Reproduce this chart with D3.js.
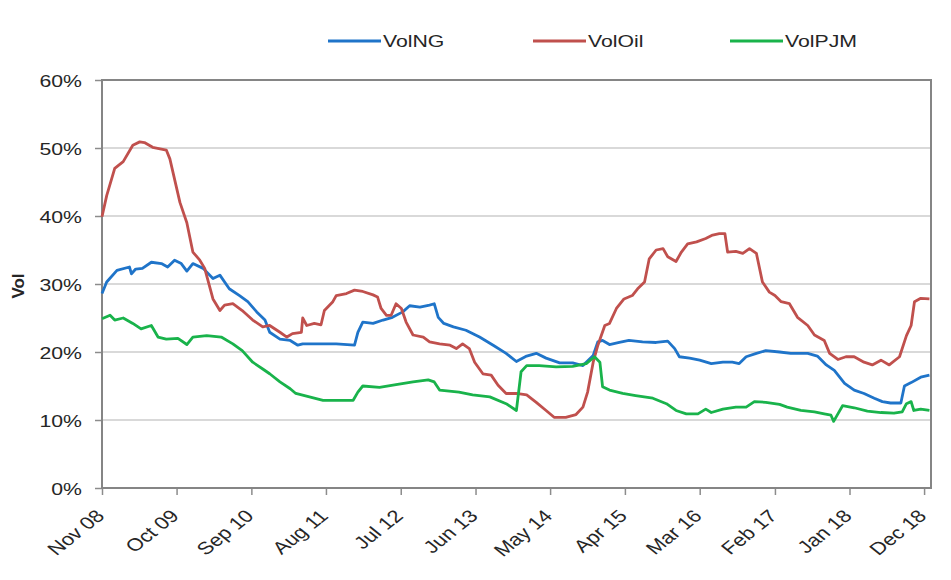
<!DOCTYPE html>
<html>
<head>
<meta charset="utf-8">
<script src="https://cdn.jsdelivr.net/npm/d3@7"></script>
<style>
  body { margin: 0; background: #fff; }
  text { font-family: "Liberation Sans", Arial, sans-serif; fill: #262626; }
</style>
</head>
<body>
<div id="chart"></div>
<script>
// [months after Nov 2008, vol %]
var volNG = [[0,28.6],[0.7,30.3],[2.2,32],[4.1,32.5],[4.4,31.5],[5,32.2],[6,32.3],[7.3,33.2],[8.8,33],[9.7,32.5],
  [10.7,33.5],[11.7,33],[12.5,31.9],[13.4,33],[14.9,32.3],[16.4,30.8],[17.4,31.3],[18.8,29.3],[20.3,28.3],[21.5,27.4],
  [22.8,25.9],[24,24.7],[24.7,22.9],[26.2,21.9],[27.7,21.7],[28.9,21],[29.6,21.2],[32.1,21.2],[34.5,21.2],[37.2,21],
  [37.7,22.9],[38.4,24.4],[39.9,24.2],[41.4,24.7],[42.8,25.1],[44.3,25.9],[45.3,26.8],[46.8,26.6],[48.2,26.9],[48.9,27.1],
  [49.5,25.1],[50.3,24.2],[51.7,23.7],[53.6,23.2],[55.6,22.2],[57.6,21],[59.5,19.8],[61,18.6],[62.5,19.4],[63.9,19.8],
  [65.4,19.1],[67.4,18.4],[69.3,18.4],[70.8,18],[72.3,19.5],[73,21.5],[73.7,21.7],[74.7,21.1],[76.2,21.4],[77.6,21.7],
  [79.6,21.5],[81.6,21.4],[83.3,21.6],[84.3,20.5],[85,19.3],[86.5,19.1],[88,18.8],[89.7,18.3],[91.4,18.5],[92.8,18.5],
  [93.8,18.3],[94.8,19.3],[96.3,19.8],[97.7,20.2],[99.7,20],[101.4,19.8],[103.9,19.8],[105.3,19.4],[106.6,18.1],[107.8,17.3],
  [109.3,15.4],[110.7,14.4],[112.2,13.9],[113.7,13.2],[114.9,12.7],[116.1,12.5],[117.6,12.5],[118.1,15],[119.1,15.5],[120.5,16.3],
  [121.8,16.6]];

var volOil = [[0,39.9],[0.7,43],[1.9,47],[3.1,48],[4.6,50.4],[5.6,50.9],[6.3,50.8],[7.5,50.1],[9.5,49.7],[10,48.4],
  [11.5,42],[12.5,39],[13.4,34.7],[14.4,33.5],[15.1,32.3],[16.4,27.8],[17.4,26.1],[18.1,26.9],[19.3,27.1],[20.7,26.1],
  [22.2,24.7],[23.7,23.7],[24.7,23.9],[26.2,22.9],[27.2,22.2],[28.1,22.7],[29.4,22.9],[29.6,25],[30.2,23.9],[31.3,24.2],
  [32.3,24],[32.8,26.1],[34,27.4],[34.5,28.3],[36,28.6],[37.2,29.1],[38.4,28.9],[39.9,28.4],[40.6,28.1],[41.1,26.4],
  [41.9,25.4],[42.6,25.4],[43.3,27.1],[44.1,26.4],[44.8,24.4],[45.8,22.5],[47.3,22.2],[48.2,21.5],[49.7,21.2],[51.2,21],
  [52.2,20.5],[53.1,21.2],[54.1,20.5],[54.9,18.5],[56.1,16.8],[57.3,16.6],[58.3,15.1],[59.5,13.9],[61,13.9],[62.5,13.7],
  [63.9,12.6],[65.4,11.4],[66.6,10.4],[68.3,10.4],[69.8,10.8],[70.8,11.9],[71.5,14.1],[72.3,18.5],[73,21],[74,23.9],
  [74.7,24.2],[75.7,26.4],[76.9,27.8],[78.1,28.3],[78.9,29.3],[79.9,30.3],[80.6,33.7],[81.6,35],[82.6,35.2],[83.3,34],
  [84.5,33.3],[85.3,34.7],[86.2,35.9],[87.5,36.2],[88.9,36.7],[89.9,37.2],[90.9,37.4],[91.7,37.4],[92.1,34.7],[93.3,34.8],
  [94.3,34.5],[95.3,35.2],[96.3,34.5],[97.2,30.3],[98.2,28.8],[99,28.3],[100,27.4],[101.2,27.1],[102.4,25.1],[103.9,23.9],
  [104.9,22.5],[106.3,21.7],[107.1,19.8],[108.3,18.9],[109.5,19.3],[110.7,19.3],[112.2,18.5],[113.4,18.1],[114.7,18.8],[115.9,18.1],
  [117.4,19.3],[118.4,22.4],[119.1,23.9],[119.6,27.4],[120.5,27.9],[121.8,27.8]];

var volPJM = [[0,24.9],[1.2,25.4],[1.9,24.7],[3.1,25],[4.6,24.2],[5.8,23.4],[7.3,23.9],[8.3,22.2],[9.5,21.9],[11.2,22],
  [12.5,21.1],[13.4,22.2],[15.4,22.4],[17.6,22.2],[19.3,21.2],[20.7,20.2],[22.2,18.5],[23.7,17.5],[24.7,16.8],[26.2,15.6],
  [27.7,14.6],[28.6,13.9],[30.6,13.4],[32.6,12.9],[34.5,12.9],[37,12.9],[37.7,14.1],[38.4,15],[40.9,14.8],[43.3,15.2],
  [45.8,15.6],[48,15.9],[48.9,15.6],[49.7,14.4],[52.6,14.1],[54.6,13.7],[57.1,13.4],[59.5,12.4],[61,11.4],[61.7,17.1],
  [62.5,18],[64.4,18],[66.9,17.8],[69.3,17.9],[71.3,18.3],[72.5,19.3],[73.3,18.5],[73.7,14.9],[74.7,14.4],[76.7,13.9],
  [78.6,13.6],[81.1,13.2],[83.1,12.4],[84.5,11.4],[86,10.9],[87.7,10.9],[88.9,11.6],[89.7,11.1],[91.4,11.6],[93.3,11.9],
  [94.8,11.9],[96,12.7],[97.7,12.6],[99.7,12.3],[100.9,11.9],[102.9,11.4],[104.9,11.2],[106.3,10.9],[107.3,10.7],[107.7,9.8],
  [108.3,10.9],[109,12.1],[110.7,11.8],[112.7,11.3],[114.7,11.1],[116.6,11],[117.8,11.2],[118.4,12.4],[119.1,12.7],[119.5,11.4],
  [120.5,11.6],[121.8,11.4]];

var seriesNames = ["VolNG", "VolOil", "VolPJM"];
var seriesColors = ["#1f74c9", "#c0504d", "#19b34b"];
var xTickLabels = ["Nov 08","Oct 09","Sep 10","Aug 11","Jul 12","Jun 13","May 14","Apr 15","Mar 16","Feb 17","Jan 18","Dec 18"];
var yTicks = [0, 10, 20, 30, 40, 50, 60];

// chart text in the original is a bit wider than normal Arial
var sx = 1.25;

var margin = {top: 80, right: 20, bottom: 92, left: 102},
    width = 951 - margin.left - margin.right,
    height = 580 - margin.top - margin.bottom;

var start = new Date(2008, 10, 1);
function toDate(m) {
  var d = d3.timeMonth.offset(start, Math.floor(m));
  return d3.timeDay.offset(d, Math.round((m % 1) * 30));
}

var svg = d3.select("#chart")
  .append("svg")
    .attr("width", width + margin.left + margin.right)
    .attr("height", height + margin.top + margin.bottom)
  .append("g")
    .attr("transform", "translate(" + margin.left + "," + margin.top + ")");

var x = d3.scaleTime()
    .domain([start, d3.timeMonth.offset(start, 122)])
    .range([0, width]);

var y = d3.scaleLinear()
    .domain([0, 60])
    .range([height, 0]);

// gridlines
svg.append("g")
  .selectAll("line")
  .data(yTicks.slice(1, -1))
  .enter()
  .append("line")
    .attr("x1", 0)
    .attr("x2", width)
    .attr("y1", function(d) { return y(d) })
    .attr("y2", function(d) { return y(d) })
    .attr("stroke", "#d9d9d9")
    .attr("stroke-width", 2);

// Y axis
var yAxis = svg.append("g")
  .call(d3.axisLeft(y).tickValues(yTicks).tickSize(7).tickFormat(function(d) { return d + "%" }));
yAxis.select(".domain").remove();
yAxis.selectAll(".tick line").attr("stroke", "#8c8c8c").attr("stroke-width", 1.5);
yAxis.selectAll(".tick text")
  .attr("x", null)
  .attr("dy", null)
  .attr("fill", "#262626")
  .style("font-size", "17px")
  .attr("text-anchor", "end")
  .attr("transform", "translate(-20,6) scale(" + sx + ",1)");

// X axis
var tickDates = xTickLabels.map(function(d) { return d3.timeParse("%b %y")(d) });
var xAxis = svg.append("g")
  .attr("transform", "translate(0," + height + ")")
  .call(d3.axisBottom(x).tickValues(tickDates).tickSize(7).tickFormat(d3.timeFormat("%b %y")));
xAxis.select(".domain").remove();
xAxis.selectAll(".tick line").attr("stroke", "#8c8c8c").attr("stroke-width", 1.5);
xAxis.selectAll(".tick text")
  .attr("y", null)
  .attr("dy", null)
  .attr("fill", "#262626")
  .style("font-size", "17.5px")
  .attr("text-anchor", "end")
  .attr("transform", "translate(3,29) scale(" + sx + ",1) rotate(-45)");

// plot border
svg.append("rect")
  .attr("width", width)
  .attr("height", height)
  .attr("fill", "none")
  .attr("stroke", "#858585")
  .attr("stroke-width", 2);

// Y axis title
svg.append("text")
  .attr("transform", "translate(-78," + (height / 2 + 2) + ") rotate(-90)")
  .attr("text-anchor", "middle")
  .style("font-size", "17px")
  .style("font-weight", "bold")
  .text("Vol");

// lines
var line = d3.line()
  .x(function(d) { return x(toDate(d[0])) })
  .y(function(d) { return y(d[1]) });

[volNG, volOil, volPJM].forEach(function(data, i) {
  svg.append("path")
    .datum(data)
    .attr("fill", "none")
    .attr("stroke", seriesColors[i])
    .attr("stroke-width", 2.8)
    .attr("stroke-linejoin", "round")
    .attr("d", line);
});

// legend
var legendX = [226, 431, 628];
var legend = svg.append("g")
  .attr("transform", "translate(0,-39)");
seriesNames.forEach(function(name, i) {
  legend.append("line")
    .attr("x1", legendX[i])
    .attr("x2", legendX[i] + 53)
    .attr("y1", 0)
    .attr("y2", 0)
    .attr("stroke", seriesColors[i])
    .attr("stroke-width", 3);
  legend.append("text")
    .attr("transform", "translate(" + (legendX[i] + 55) + ",6) scale(" + sx + ",1)")
    .style("font-size", "17px")
    .text(name);
});
</script>
</body>
</html>
